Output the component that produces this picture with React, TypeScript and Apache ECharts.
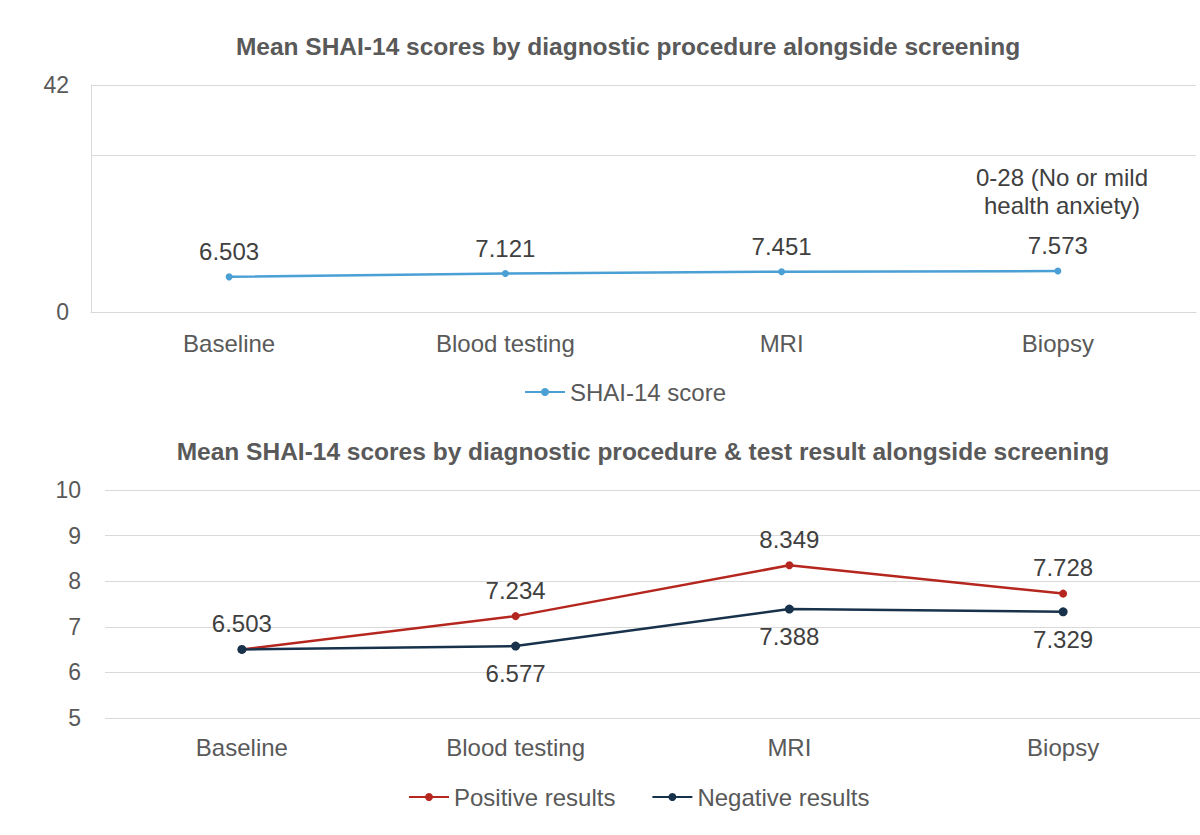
import React, { useEffect, useRef } from "react";
import * as echarts from "echarts";

const categories = ["Baseline", "Blood testing", "MRI", "Biopsy"];
const shaiScores = [6.503, 7.121, 7.451, 7.573];
const positiveResults = [6.503, 7.234, 8.349, 7.728];
const negativeResults = [6.503, 6.577, 7.388, 7.329];
const topAxisMin = 0;
const topAxisMax = 42;
const thresholdLine = 29;
const bottomAxisMin = 5;
const bottomAxisMax = 10;

const FONT = "Liberation Sans, Arial, Helvetica, sans-serif";
const AXIS_TEXT = "#595959";
const LABEL_TEXT = "#404040";
const GRID = "#d9d9d9";

export default function App() {
  const ref = useRef<HTMLDivElement>(null);
  useEffect(() => {
    if (!ref.current) return;
    const chart = echarts.init(ref.current, null, { renderer: "svg" });
    const labelBase = { fontSize: 24, color: LABEL_TEXT, fontFamily: FONT };
    chart.setOption({
      animation: false,
      backgroundColor: "#ffffff",
      textStyle: { fontFamily: FONT },
      title: [
        {
          text: "Mean SHAI-14 scores by diagnostic procedure alongside screening",
          left: 623,
          top: 29,
          textAlign: "center",
          textStyle: { fontSize: 24.5, fontWeight: "bold", color: AXIS_TEXT, fontFamily: FONT },
        },
        {
          text: "Mean SHAI-14 scores by diagnostic procedure & test result alongside screening",
          left: 638,
          top: 434,
          textAlign: "center",
          textStyle: { fontSize: 24.5, fontWeight: "bold", color: AXIS_TEXT, fontFamily: FONT },
        },
      ],
      legend: [
        {
          data: ["SHAI-14 score"],
          left: 519,
          top: 375,
          itemWidth: 40,
          itemHeight: 10,
          itemGap: 34,
          textStyle: { fontSize: 24, color: AXIS_TEXT, fontFamily: FONT },
        },
        {
          data: ["Positive results", "Negative results"],
          left: 403,
          top: 780,
          itemWidth: 40,
          itemHeight: 10,
          itemGap: 36,
          textStyle: { fontSize: 24, color: AXIS_TEXT, fontFamily: FONT },
        },
      ],
      grid: [
        { left: 91, top: 85, width: 1105, height: 227, containLabel: false },
        { left: 105, top: 490, width: 1103, height: 228, containLabel: false },
      ],
      xAxis: [
        {
          type: "category",
          gridIndex: 0,
          data: categories,
          axisLine: { show: true, lineStyle: { color: GRID } },
          axisTick: { show: false },
          axisLabel: { fontSize: 24, color: AXIS_TEXT, margin: 19, fontFamily: FONT },
        },
        {
          type: "category",
          gridIndex: 1,
          data: categories,
          axisLine: { show: false },
          axisTick: { show: false },
          axisLabel: { fontSize: 24, color: AXIS_TEXT, margin: 17, fontFamily: FONT },
        },
      ],
      yAxis: [
        {
          type: "value",
          gridIndex: 0,
          min: topAxisMin,
          max: topAxisMax,
          interval: 42,
          axisLine: { show: true, lineStyle: { color: GRID } },
          axisTick: { show: false },
          splitLine: { lineStyle: { color: GRID } },
          axisLabel: { fontSize: 23, color: AXIS_TEXT, margin: 22, fontFamily: FONT },
        },
        {
          type: "value",
          gridIndex: 1,
          min: bottomAxisMin,
          max: bottomAxisMax,
          interval: 1,
          axisLine: { show: false },
          axisTick: { show: false },
          splitLine: { lineStyle: { color: GRID } },
          axisLabel: { fontSize: 23, color: AXIS_TEXT, margin: 24, fontFamily: FONT },
        },
      ],
      series: [
        {
          name: "SHAI-14 score",
          type: "line",
          xAxisIndex: 0,
          yAxisIndex: 0,
          data: shaiScores,
          color: "#4a9fd4",
          symbol: "circle",
          symbolSize: 7,
          lineStyle: { width: 2.5 },
          label: { show: true, position: "top", distance: 10, ...labelBase },
          markLine: {
            silent: true,
            symbol: "none",
            label: { show: false },
            lineStyle: { color: GRID, type: "solid", width: 1 },
            data: [{ yAxis: thresholdLine }],
          },
        },
        {
          name: "Positive results",
          type: "line",
          xAxisIndex: 1,
          yAxisIndex: 1,
          data: positiveResults,
          color: "#b5261e",
          symbol: "circle",
          symbolSize: 8,
          lineStyle: { width: 2.5 },
          label: { show: true, position: "top", distance: 10, ...labelBase },
          z: 3,
        },
        {
          name: "Negative results",
          type: "line",
          xAxisIndex: 1,
          yAxisIndex: 1,
          data: negativeResults.map((v, i) =>
            i === 0 ? { value: v, label: { show: false } } : v
          ),
          color: "#17324a",
          symbol: "circle",
          symbolSize: 9,
          lineStyle: { width: 2.5 },
          label: { show: true, position: "bottom", distance: 11, ...labelBase },
          z: 4,
        },
      ],
      graphic: [
        {
          type: "text",
          x: 1062,
          y: 163,
          style: {
            text: "0-28 (No or mild\nhealth anxiety)",
            textAlign: "center",
            fontSize: 24,
            lineHeight: 28,
            fill: LABEL_TEXT,
            fontFamily: FONT,
          },
        },
      ],
    });
    return () => chart.dispose();
  }, []);
  return (
    <div
      ref={ref}
      style={{ position: "fixed", left: 0, top: 0, width: 1200, height: 835, background: "#fff" }}
    />
  );
}
